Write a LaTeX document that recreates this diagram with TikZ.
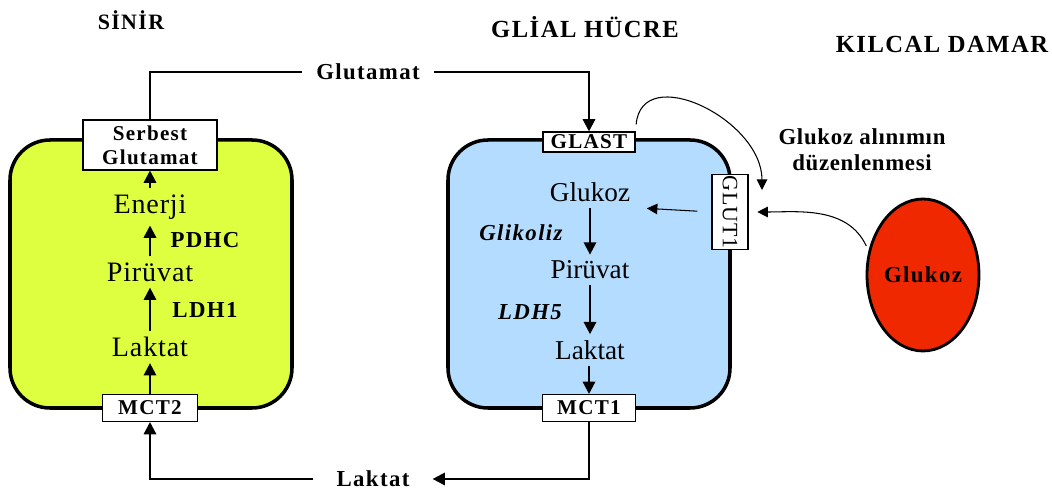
\documentclass[tikz,border=0pt]{standalone}
\usepackage{fontspec}
\setmainfont{Liberation Serif}
\newfontfamily\wideserif[LetterSpace=6]{Liberation Serif}
\newfontfamily\looseserif[LetterSpace=3]{Liberation Serif}
\usetikzlibrary{arrows.meta,shapes.geometric,positioning}
\definecolor{lime}{HTML}{DDFF40}
\definecolor{sky}{HTML}{B4DCFF}
\definecolor{blood}{HTML}{F02800}

\begin{document}
\begin{tikzpicture}[x=0.02cm,y=0.02cm,
 head/.style={font=\wideserif\bfseries\fontsize{14}{16}\selectfont},
 port/.style={draw,fill=white,line width=.6pt,inner sep=1pt,align=center,
  font=\wideserif\bfseries\fontsize{12}{13.5}\selectfont},
 metL/.style={font=\looseserif\fontsize{16}{18}\selectfont},
 metG/.style={font=\fontsize{15.5}{17}\selectfont},
 enz/.style={font=\wideserif\bfseries\fontsize{13}{15}\selectfont},
 enzi/.style={font=\wideserif\bfseries\itshape\fontsize{13}{15}\selectfont},
 cell/.style={draw,line width=2pt,rounded corners=0.8cm},
 flow/.style={-{Triangle[length=7pt,width=7pt]},line width=1.3pt},
 wire/.style={line width=1.3pt},
 hint/.style={-{Triangle[length=6pt,width=6pt]},line width=.6pt}]
\path[use as bounding box] (0,0) rectangle (1052,493);
% cells
\draw[cell,fill=lime] (10,85) rectangle (292,353);
\draw[cell,fill=sky] (448,85) rectangle (730,353);
% headers
\node[head,font=\wideserif\bfseries\fontsize{12.5}{14}\selectfont] (sinir) at (131,473) {SİNİR};
\node[head] (glial) at (585,466) {GLİAL HÜCRE};
\node[head] (kilcal) at (942,449) {KILCAL DAMAR};
% transporters
\node[port,minimum width=2.68cm,minimum height=1cm] (serbest) at (150,348) {Serbest\\Glutamat};
\node[port,minimum width=1.9cm,minimum height=.54cm] (mct2) at (150,85) {MCT2};
\node[port,minimum width=1.84cm,minimum height=.4cm] (glast) at (589,351) {GLAST};
\node[port,minimum width=1.86cm,minimum height=.54cm] (mct1) at (589,85) {MCT1};
\node[port,rotate=-90,minimum width=1.5cm,minimum height=.72cm,
 font=\looseserif\fontsize{12.5}{14}\selectfont] (glut1) at (730,281) {GLUT1};
% neuron
\node[metL] (enerjiL) at (150,286) {Enerji};
\node[metL] (piruvatL) at (150,221) {Pirüvat};
\node[metL] (laktatL) at (150,146) {Laktat};
\node[enz] (pdhc) at (205,253) {PDHC};
\node[enz] (ldh1) at (205,183) {LDH1};
\draw[flow] (mct2) -- (laktatL);
\draw[flow] (laktatL) -- (piruvatL);
\draw[flow] (piruvatL) -- (enerjiL);
\draw[flow] (enerjiL) -- (serbest);
% glia
\node[metG] (glukozG) at (590,301) {Glukoz};
\node[metG] (piruvatG) at (590,223) {Pirüvat};
\node[metG] (laktatG) at (590,143) {Laktat};
\node[enzi] (glikoliz) at (521,260) {Glikoliz};
\node[enzi] (ldh5) at (530,181) {LDH5};
\draw[flow] (glukozG) -- (piruvatG);
\draw[flow] (piruvatG) -- (laktatG);
\draw[flow] (laktatG.south -| mct1.north) -- (mct1);
% exchange between cells
\node[enz,inner xsep=8pt] (glutamat) at (368,421) {Glutamat};
\node[enz,inner xsep=13pt] (laktat) at (373,14) {Laktat};
\draw[wire] (serbest.north) |- (glutamat.west);
\draw[flow] (glutamat.east) -| (glast.north);
\draw[flow] (mct1.south) |- (laktat.east);
\draw[flow] (laktat.west) -| (mct2.south);
% capillary
\node[draw,ellipse,line width=1.6pt,fill=blood,inner sep=0pt,minimum width=2.24cm,minimum height=3.04cm,
 font=\wideserif\bfseries\fontsize{13}{15}\selectfont] (kan) at (923,218) {Glukoz};
\node[enz,align=center,font=\looseserif\bfseries\fontsize{13}{15}\selectfont] (ayar) at (862,343)
 {Glukoz alınımın\\düzenlenmesi};
\coordinate (ayarucu) at (762,303);
\draw[hint,shorten <=3pt,shorten >=5pt] (kan.156) to[out=115,in=0] (glut1.north);
\draw[hint,shorten <=8pt,shorten >=6pt] (glut1.south) -- (glukozG.south east);
\draw[hint,shorten <=4pt] (glast.north east) to[out=85,in=90,looseness=1.3] (ayarucu);
\end{tikzpicture}
\end{document}
